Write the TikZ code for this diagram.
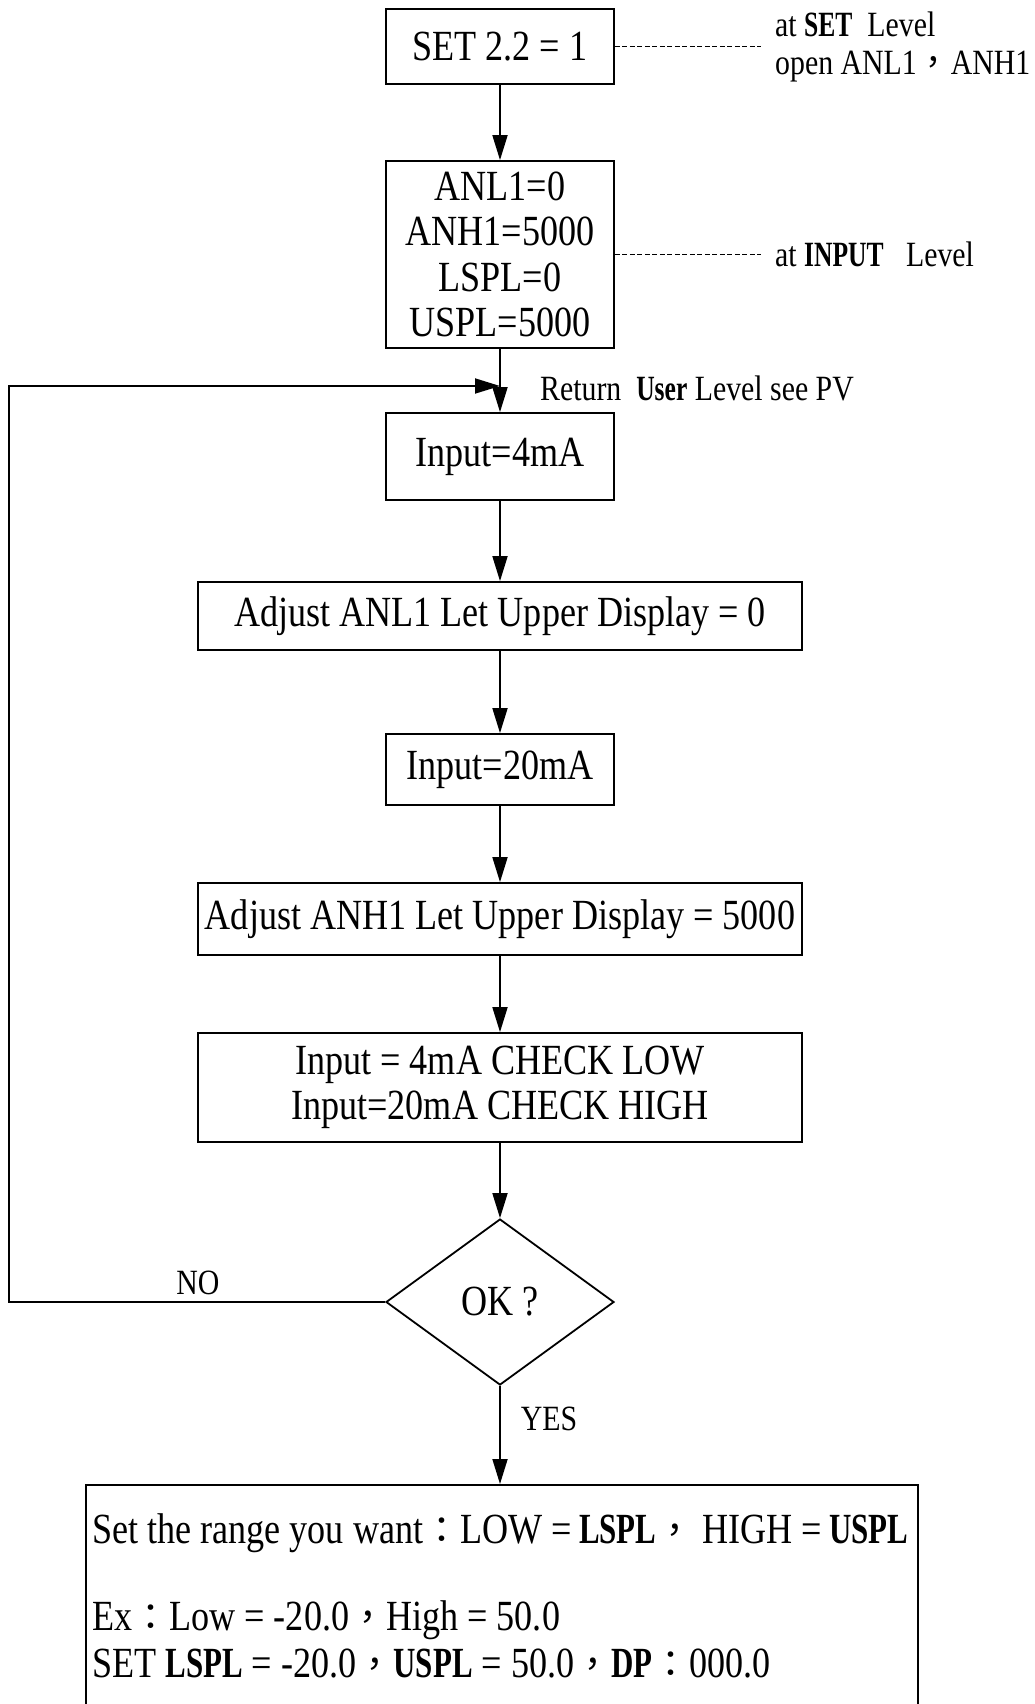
\documentclass[tikz,border=0pt]{standalone}
\usepackage{fontspec}
\setmainfont[FakeStretch=0.84]{Liberation Serif}
\newfontface\bcond[FakeStretch=0.72]{Liberation Serif Bold}
\newfontfamily\cjk{Noto Sans CJK TC}
\usetikzlibrary{shapes.geometric,arrows.meta}
\newcommand{\fc}{{\cjk\fontsize{37}{37}\selectfont ：}}
\newcommand{\fcm}{{\cjk\fontsize{37}{37}\selectfont ，}}
\newcommand{\fcs}{{\cjk\fontsize{34}{34}\selectfont ，}}
\newcommand{\B}[1]{{\bcond #1}}
\newcommand{\mainsz}{\fontsize{43}{45.6}\selectfont}
\newcommand{\sidesz}{\fontsize{35.5}{38}\selectfont}
\tikzset{
  box/.style={draw, line width=1.8pt, inner sep=0pt, align=center, font=\mainsz},
  arr/.style={line width=1.8pt, -{Triangle[length=25pt,width=15pt]}},
  dashln/.style={line width=1.5pt, dash pattern=on 5pt off 2.5pt},
  sidetext/.style={inner sep=0pt, anchor=west, align=left, font=\sidesz},
  lbl/.style={inner sep=0pt, font=\sidesz},
  btext/.style={inner sep=0pt, anchor=west, font=\mainsz}
}
\begin{document}
\begin{tikzpicture}[x=1pt,y=-1pt]
\useasboundingbox (0,0) rectangle (1035,1704);
\clip (0,0) rectangle (1035,1704);
\fill[white] (0,0) rectangle (1035,1704);

\node[box, minimum width=228pt, minimum height=75pt] (b1) at (500,46.5) {SET 2.2 = 1};
\node[box, minimum width=228pt, minimum height=187pt] (b2) at (500,254.5) {ANL1=0\\ANH1=5000\\LSPL=0\\USPL=5000};
\node[box, minimum width=228pt, minimum height=87pt] (b3) at (500,456.5) {Input=4mA};
\node[box, minimum width=604pt, minimum height=68pt] (b4) at (500,616) {Adjust ANL1 Let Upper Display = 0};
\node[box, minimum width=228pt, minimum height=71pt] (b5) at (500,769.5) {Input=20mA};
\node[box, minimum width=604pt, minimum height=72pt] (b6) at (500,919) {Adjust ANH1 Let Upper Display = 5000};
\node[box, minimum width=604pt, minimum height=109pt] (b7) at (500,1087.5) {Input = 4mA CHECK LOW\\Input=20mA CHECK HIGH};
\node[draw, line width=1.8pt, diamond, inner sep=0pt, minimum width=228pt, minimum height=166pt, font=\mainsz] (d) at (500,1302) {OK ?};
\node[draw, line width=1.8pt, inner sep=0pt, minimum width=832pt, minimum height=270pt, anchor=north west] (b8) at (85,1484) {};

\node[btext] (t1) at (92,1533) {Set the range you want\fc LOW =\,\B{LSPL}\fcm\ HIGH =\,\B{USPL}};
\node[btext] (t2) at (92,1620) {Ex\fc Low = -20.0\fcm High = 50.0};
\node[btext] (t3) at (92,1663) {SET \B{LSPL} = -20.0\fcm\B{USPL} = 50.0\fcm\B{DP}\fc 000.0};

% side notes
\coordinate (e1) at (761,46.5);
\coordinate (e2) at (761,254.5);
\draw[dashln] (b1.east) -- (e1);
\draw[dashln] (b2.east) -- (e2);
\node[sidetext] (n1) at (775,46.5) {at \B{SET}\ \ Level\\open ANL1\fcs ANH1};
\node[sidetext] (n2) at (775,254.5) {at \B{INPUT}\ \ \ Level};
\node[sidetext] (n3) at (540,388) {Return \ \B{User} Level see PV};

% flow
\draw[arr] (b1) -- (b2);
\draw[arr] (b2) -- (b3);
\draw[arr] (b3) -- (b4);
\draw[arr] (b4) -- (b5);
\draw[arr] (b5) -- (b6);
\draw[arr] (b6) -- (b7);
\draw[arr] (b7) -- (d);
\draw[arr] (d) -- (b8.north -| d);

\coordinate (j) at (500,386);
\coordinate (lc) at (9,386);
\draw[arr] (d.west) -| (lc) -- (j);

\node[lbl] (no) at (198,1283) {NO};
\node[lbl] (yes) at (549,1419) {YES};
\end{tikzpicture}
\end{document}
